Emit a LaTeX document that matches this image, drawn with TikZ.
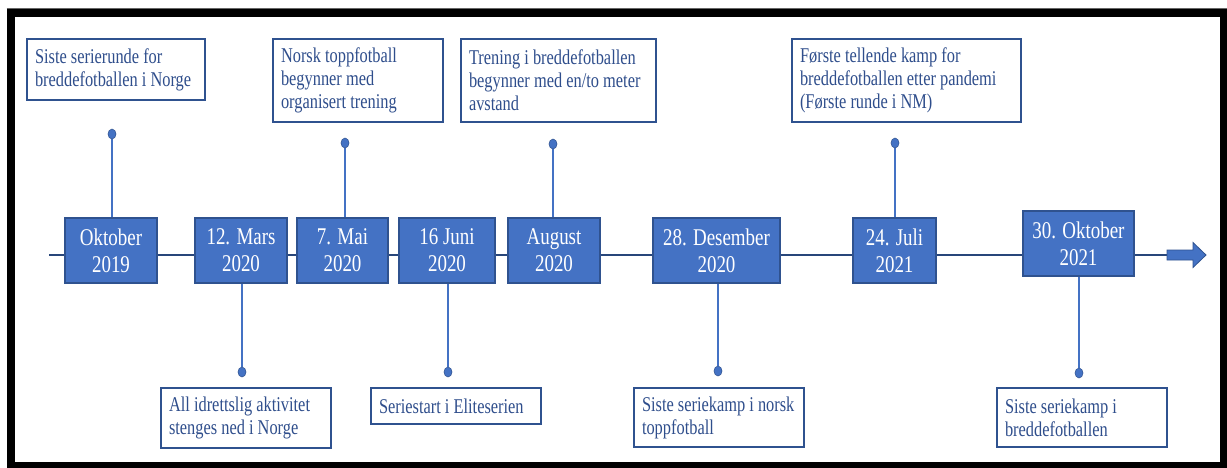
\documentclass[tikz,border=0pt]{standalone}
\usepackage{fontspec}
\setmainfont{Liberation Serif}
\newfontfamily\datefont[FakeStretch=0.79]{Liberation Serif}
\newfontfamily\evfont[FakeStretch=0.78]{Liberation Serif}
\usetikzlibrary{shapes.geometric,backgrounds}
\hyphenpenalty=10000
\exhyphenpenalty=10000
\protected\def\datesetup{\datefont\fontsize{24}{27}\selectfont
  \fontdimen2\font=4.7pt\fontdimen3\font=0pt\fontdimen4\font=0pt\relax}
\protected\def\evsetup{\evfont\fontsize{21}{23}\selectfont
  \fontdimen2\font=4.1pt\fontdimen3\font=0pt\fontdimen4\font=0pt\relax}
\protected\def\nospaceskip{\spaceskip=0pt\xspaceskip=0pt\relax}
\definecolor{offblue}{HTML}{4472C4}
\definecolor{darkblue}{HTML}{2F528F}
\definecolor{evtext}{HTML}{2F4E8C}
\tikzset{
  datebox/.style={draw=darkblue, line width=1.2pt, fill=offblue, text=white, align=center,
    minimum height=65pt, inner sep=0pt, font=\datesetup, execute at begin node=\nospaceskip},
  evbox/.style={draw=darkblue, line width=1.2pt, fill=white, text=evtext, align=flush left,
    inner xsep=8pt, inner ysep=0pt, font=\evsetup, execute at begin node=\nospaceskip},
  evdot/.style={ellipse, fill=offblue, draw=darkblue, line width=0.5pt, minimum width=8pt, minimum height=10pt, inner sep=0pt},
  stem/.style={draw=offblue, line width=1.4pt},
  tline/.style={draw=darkblue!85!black, line width=1.8pt}
}
\begin{document}
\begin{tikzpicture}[x=1pt,y=-1pt]
\useasboundingbox (0,0) rectangle (1227,467);

% date boxes
\node[datebox, minimum width=92pt]  (d1) at (111,250.5)   {Oktober\\2019};
\node[datebox, minimum width=92pt]  (d2) at (241,250.5)   {12. Mars\\2020};
\node[datebox, minimum width=91pt]  (d3) at (342.5,250.5) {7. Mai\\2020};
\node[datebox, minimum width=96pt]  (d4) at (447,250.5)   {16 Juni\\2020};
\node[datebox, minimum width=92pt]  (d5) at (554,250.5)   {August\\2020};
\node[datebox, minimum width=127pt] (d6) at (716.5,250.5) {28. Desember\\2020};
\node[datebox, minimum width=83pt]  (d7) at (894.5,250.5) {24. Juli\\2021};
\node[datebox, minimum width=111pt] (d8) at (1078.5,243.5) {30. Oktober\\2021};

% arrow at the end of the timeline
\coordinate (tstart) at (49,255);
\coordinate (tend) at (1167,255);
\fill[offblue, draw=darkblue, line width=0.8pt]
  (1167,250) -- (1193,250) -- (1193,242.5) -- (1206,255) -- (1193,267.5) -- (1193,260) -- (1167,260) -- cycle;

% dots
\node[evdot] (p1) at (112,134) {};
\node[evdot] (p3) at (345,143) {};
\node[evdot] (p5) at (553,144) {};
\node[evdot] (p7) at (895,143) {};
\node[evdot] (q2) at (242,372) {};
\node[evdot] (q4) at (448,372) {};
\node[evdot] (q6) at (718,371) {};
\node[evdot] (q8) at (1079,373) {};

% event boxes
\node[evbox, text width=162pt, minimum height=61pt] (e1) at (116,69.5)
  {Siste serierunde for\\breddefotballen i Norge};
\node[evbox, text width=154pt, minimum height=83pt] (e3) at (358,80.5)
  {Norsk toppfotball\\begynner med\\organisert trening};
\node[evbox, text width=179pt, minimum height=83pt] (e5) at (558.5,80.5)
  {Trening i breddefotballen\\begynner med en/to meter\\avstand};
\node[evbox, text width=213pt, minimum height=83pt] (e7) at (906.5,80.5)
  {Første tellende kamp for\\breddefotballen etter pandemi\\(Første runde i NM)};
\node[evbox, text width=154pt, minimum height=60pt] (e2) at (246,418)
  {All idrettslig aktivitet\\stenges ned i Norge};
\node[evbox, text width=154pt, minimum height=36pt] (e4) at (456,406)
  {Seriestart i Eliteserien};
\node[evbox, text width=154pt, minimum height=59pt] (e6) at (719,417.5)
  {Siste seriekamp i norsk\\toppfotball};
\node[evbox, text width=154pt, minimum height=59pt] (e8) at (1082,417.5)
  {Siste seriekamp i\\breddefotballen};

\draw[black!60, line width=0.6pt] (6.7,8.7) -- (1227,8.7);
\draw[black, line width=8pt] (11,13) rectangle (1224,466);

\begin{pgfonlayer}{background}
  \fill[white] (0,0) rectangle (1227,467);
  \draw[tline] (tstart) -- (tend);
  \draw[stem] (p1) -- (p1 |- d1.north);
  \draw[stem] (p3) -- (p3 |- d3.north);
  \draw[stem] (p5) -- (p5 |- d5.north);
  \draw[stem] (p7) -- (p7 |- d7.north);
  \draw[stem] (q2) -- (q2 |- d2.south);
  \draw[stem] (q4) -- (q4 |- d4.south);
  \draw[stem] (q6) -- (q6 |- d6.south);
  \draw[stem] (q8) -- (q8 |- d8.south);
\end{pgfonlayer}
\end{tikzpicture}
\end{document}
